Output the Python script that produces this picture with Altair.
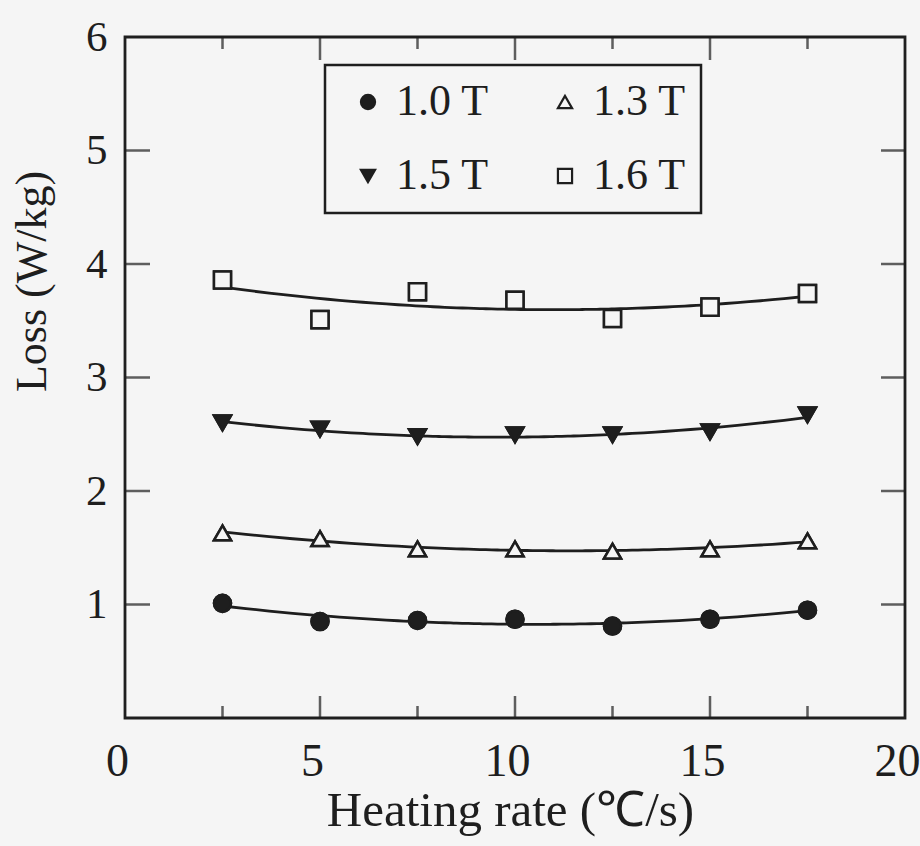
import altair as alt
import pandas as pd

BG = "#f5f5f5"
INK = "#1e1e1e"
FONT = "Liberation Serif"

# ---- data ----
heating_rate = [2.5, 5, 7.5, 10, 12.5, 15, 17.5]
loss_10T = [1.01, 0.85, 0.86, 0.87, 0.81, 0.87, 0.95]
loss_13T = [1.63, 1.58, 1.49, 1.49, 1.47, 1.49, 1.56]
loss_15T = [2.60, 2.545, 2.48, 2.495, 2.495, 2.52, 2.67]
loss_16T = [3.86, 3.51, 3.755, 3.68, 3.52, 3.62, 3.74]

series_names = ["1.0 T", "1.3 T", "1.5 T", "1.6 T"]
series_shapes = ["circle", "triangle-up", "triangle-down", "square"]
series_fills = [INK, BG, INK, BG]
series_strokes = [INK, INK, INK, INK]

x_label_values = [0, 5, 10, 15, 20]
y_label_values = [1, 2, 3, 4, 5, 6]
x_major_ticks = [5, 10, 15]
x_minor_ticks = [2.5, 7.5, 12.5, 17.5]
y_ticks = [1, 2, 3, 4, 5]

rows = []
for name, vals in zip(series_names, [loss_10T, loss_13T, loss_15T, loss_16T]):
    for xv, yv in zip(heating_rate, vals):
        rows.append({"rate": xv, "loss": yv, "series": name})
df = pd.DataFrame(rows)

xscale = alt.Scale(domain=[0, 20], nice=False, zero=False)
yscale = alt.Scale(domain=[0, 6], nice=False, zero=False)

x_axis = alt.Axis(
    values=x_label_values, title="Heating rate (℃/s)", ticks=False, domain=False, grid=False,
    labelFont=FONT, labelFontSize=46, labelColor=INK, labelPadding=21, labelOffset=-8,
    labelFlush=False,
    titleFont=FONT, titleFontSize=49, titleFontWeight="normal", titleColor=INK,
    titleBaseline="alphabetic", titleY=107, titleX=385,
)
y_axis = alt.Axis(
    values=y_label_values, title="Loss (W/kg)", ticks=False, domain=False, grid=False,
    labelFont=FONT, labelFontSize=43, labelColor=INK, labelPadding=18,
    titleFont=FONT, titleFontSize=44, titleFontWeight="normal", titleColor=INK,
    titleBaseline="alphabetic", titleAngle=270, titleX=-80, titleY=244,
)

legend = alt.Legend(title=None, columns=2, direction="horizontal")

base = alt.Chart(df)

points = base.mark_point(filled=True, strokeWidth=2.5, size=290, opacity=1).encode(
    x=alt.X("rate:Q", scale=xscale, axis=x_axis),
    y=alt.Y("loss:Q", scale=yscale, axis=y_axis),
    shape=alt.Shape("series:N", scale=alt.Scale(domain=series_names, range=series_shapes),
                    legend=legend),
    fill=alt.Fill("series:N", scale=alt.Scale(domain=series_names, range=series_fills),
                  legend=legend),
    stroke=alt.Stroke("series:N", scale=alt.Scale(domain=series_names, range=series_strokes),
                      legend=legend),
)

fit = base.transform_regression(
    "rate", "loss", method="poly", order=2, groupby=["series"]
).mark_line(color=INK, strokeWidth=2.8).encode(
    x=alt.X("rate:Q", scale=xscale, axis=x_axis),
    y=alt.Y("loss:Q", scale=yscale, axis=y_axis),
    detail="series:N",
)

xmaj = pd.DataFrame({"rate": x_major_ticks})
xmin = pd.DataFrame({"rate": x_minor_ticks})
yt = pd.DataFrame({"loss": y_ticks})

def xticks(data, length, at, sign):
    return alt.Chart(data).mark_tick(
        orient="vertical", size=length, thickness=2.5, color=INK, yOffset=sign * length / 2
    ).encode(
        x=alt.X("rate:Q", scale=xscale, axis=x_axis),
        y=alt.YDatum(at, scale=yscale, axis=y_axis),
    )

def yticks(data, length, at, sign):
    return alt.Chart(data).mark_tick(
        orient="horizontal", size=length, thickness=2.5, color=INK, xOffset=sign * length / 2
    ).encode(
        x=alt.XDatum(at, scale=xscale, axis=x_axis),
        y=alt.Y("loss:Q", scale=yscale, axis=y_axis),
    )

ticks = [
    xticks(xmaj, 22, 0, -1), xticks(xmin, 12, 0, -1),
    xticks(xmaj, 23, 6, 1), xticks(xmin, 12, 6, 1),
    yticks(yt, 25, 0, 1), yticks(yt, 24, 20, -1),
]

chart = alt.layer(points, fit, *ticks, points).properties(
    width=780, height=681,
    autosize=alt.AutoSizeParams(type="none"),
    padding={"left": 125, "top": 37, "right": 15, "bottom": 128},
    background=BG,
).configure_view(
    stroke=INK, strokeWidth=2.8, fill=BG
).configure_legend(
    orient="none", legendX=200, legendY=28,
    labelFont=FONT, labelFontSize=44, labelColor=INK, labelOffset=6,
    symbolSize=200, symbolStrokeWidth=2.2, symbolOffset=6,
    columnPadding=48, rowPadding=30, padding=15,
    strokeColor=INK, strokeWidth=2.5, fillColor=BG,
)

chart.save("out.html", embed_options={"renderer": "svg", "actions": False})
